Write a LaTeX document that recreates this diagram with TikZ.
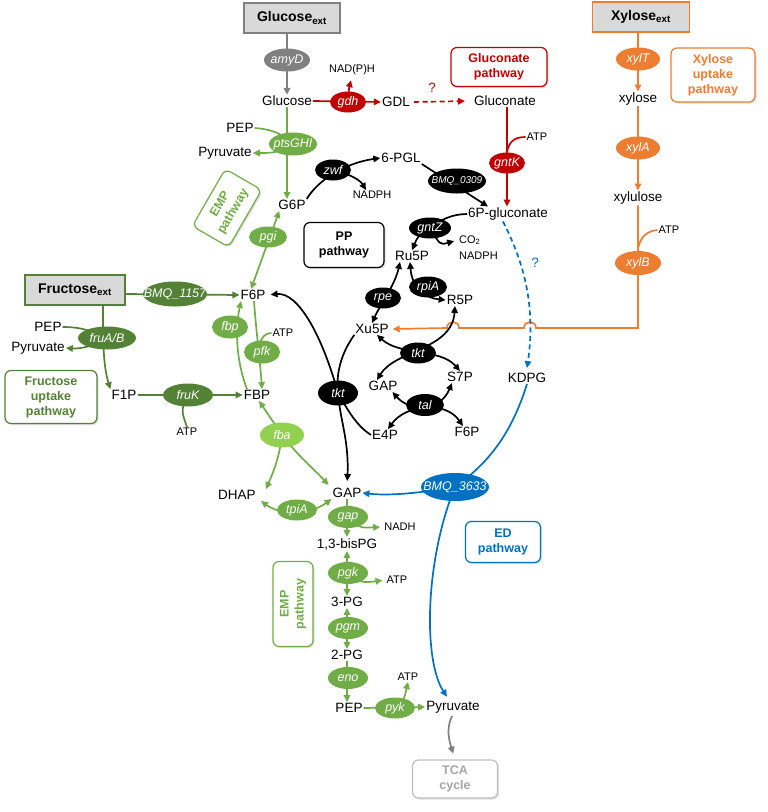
\documentclass[tikz,border=0pt]{standalone}
\usepackage{fontspec}
\setmainfont{Liberation Sans}
\usetikzlibrary{arrows.meta,shapes.geometric,shadows}
\pgfdeclarelayer{bg}
\pgfsetlayers{bg,main}
\definecolor{cred}{HTML}{C00000}
\definecolor{corange}{HTML}{ED7D31}
\definecolor{cblue}{HTML}{0070C0}
\definecolor{cgreen}{HTML}{70AD47}
\definecolor{clgreen}{HTML}{92D050}
\definecolor{cdgreen}{HTML}{538135}
\definecolor{cgray}{HTML}{808080}
\definecolor{cbox}{HTML}{D9D9D9}
\definecolor{ctca}{HTML}{BFBFBF}
\definecolor{ctcat}{HTML}{A6A6A6}
\newcommand\E[1]{\makebox[0pt]{\itshape #1}}
\tikzset{
 met/.style={font=\fontsize{13.5}{15}\selectfont, inner sep=1pt},
 sm/.style={font=\fontsize{11}{13}\selectfont, inner sep=1pt},
 enz/.style={ellipse, inner sep=0pt, minimum width=#1, minimum height=21pt, text=white, font=\fontsize{12.5}{14}\selectfont},
 extbox/.style={draw=#1, line width=1.8pt, fill=cbox, minimum width=96pt, minimum height=30pt, font=\fontsize{14}{16}\selectfont\bfseries},
 pbox/.style={draw=#1, text=#1, line width=1.2pt, rounded corners=6pt, fill=white, align=center, font=\fontsize{12.5}{15}\selectfont\bfseries, drop shadow={opacity=0.25, shadow xshift=1.5pt, shadow yshift=-1.5pt}},
 ln/.style={line width=1.7pt},
 arr/.style={ln, -{Triangle[length=7pt,width=6.5pt]}},
 barr/.style={ln, {Triangle[length=7pt,width=6.5pt]}-{Triangle[length=7pt,width=6.5pt]}},
}
\begin{document}
\begin{tikzpicture}[x=1pt,y=-1pt]
\useasboundingbox (0,0) rectangle (768,812);
% ---------- nodes ----------
\node[extbox=cgray] (gext) at (292,18) {Glucose\textsubscript{ext}};
\node[enz=46pt, fill=cgray, minimum height=23pt] (amyD) at (287,60) {\E{amyD}};
\node[met] (glc) at (287,101) {Glucose};
\node[enz=36pt, fill=cred] (gdh) at (348,102) {\E{gdh}};
\node[sm] (nadph1) at (352,70) {NAD(P)H};
\node[met] (gdl) at (396,102) {GDL};
\node[met, text=cred] (q1) at (432,88) {?};
\node[met] (glcn) at (505,101) {Gluconate};
\node[pbox=cred, minimum width=96pt, minimum height=39pt] (gpath) at (499,67) {Gluconate\\pathway};

\node[extbox=corange, minimum width=97pt] (xext) at (641,17) {Xylose\textsubscript{ext}};
\node[enz=44pt, fill=corange, minimum height=23pt] (xylT) at (638,59) {\E{xylT}};
\node[met] (xyl) at (638,99) {xylose};
\node[pbox=corange, minimum width=84pt, minimum height=54pt] (xpath) at (713,75) {Xylose\\uptake\\pathway};
\node[enz=44pt, fill=corange, minimum height=23pt] (xylA) at (638,148) {\E{xylA}};
\node[met] (xylu) at (638,198) {xylulose};
\node[enz=46pt, fill=corange, minimum height=24pt] (xylB) at (638,263) {\E{xylB}};
\node[sm] (atpx) at (669,230) {ATP};
\coordinate (xbb) at (638,249);

\node[enz=36pt, fill=cred] (gntK) at (507,163) {\E{gntK}};
\node[sm] (atpg) at (537,137) {ATP};
\coordinate (gkb) at (507,152);
\node[met] (pg6) at (508,214) {6P-gluconate};
\node[enz=58pt, fill=black, minimum height=25pt, font=\fontsize{10}{12}\selectfont] (bmq0309) at (457,181) {\E{BMQ\_0309}};
\node[met] (pgl) at (401,158) {6-PGL};
\node[enz=36pt, fill=black] (zwf) at (333,170) {\E{zwf}};
\node[sm] (nadph2) at (372,195) {NADPH};
\node[met] (g6p) at (292,205) {G6P};
\node[enz=48pt, fill=cgreen, minimum height=23pt] (pts) at (293,144) {\E{ptsGHI}};
\node[met] (pep1) at (240,128) {PEP};
\node[met] (pyr1) at (225,153) {Pyruvate};
\node[pbox=cgreen, rotate=60, minimum width=66pt, minimum height=42pt] (emp1) at (227,208) {EMP\\pathway};
\node[enz=38pt, fill=cgreen] (pgi) at (268,237) {\E{pgi}};
\node[met] (f6p) at (253,295) {F6P};

\node[extbox=cdgreen, minimum width=100pt] (fext) at (75,290) {Fructose\textsubscript{ext}};
\node[enz=64pt, fill=cdgreen, minimum height=25pt] (bmq1157) at (175,294) {\E{BMQ\_1157}};
\node[enz=58pt, fill=cdgreen, minimum height=23pt] (fruab) at (107,338) {\E{fruA/B}};
\node[met] (pep2) at (48,327) {PEP};
\node[met] (pyr2) at (38,348) {Pyruvate};
\node[met] (f1p) at (124,395) {F1P};
\node[pbox=cdgreen, minimum width=92pt, minimum height=53pt] (fpath) at (51,397) {Fructose\\uptake\\pathway};
\node[enz=50pt, fill=cdgreen, minimum height=23pt] (fruK) at (188,395) {\E{fruK}};
\node[sm] (atpk) at (187,432) {ATP};
\node[met] (fbp) at (257,395) {FBP};
\node[enz=36pt, fill=cgreen, minimum height=23pt] (fbpE) at (230,327) {\E{fbp}};
\node[enz=36pt, fill=cgreen, minimum height=23pt] (pfk) at (262,352) {\E{pfk}};
\node[sm] (atpp) at (283,333) {ATP};
\coordinate (pfkb) at (259,345);
\node[enz=44pt, fill=clgreen, minimum height=25pt] (fba) at (282,435) {\E{fba}};
\node[met] (dhap) at (237,495) {DHAP};
\node[met] (gap) at (347,493) {GAP};
\node[enz=40pt, fill=cgreen] (tpiA) at (297,510) {\E{tpiA}};
\node[enz=40pt, fill=cgreen, minimum height=22pt] (gapE) at (348,517) {\E{gap}};
\node[sm] (nadh) at (400,527) {NADH};
\node[met] (bpg) at (347,544) {1,3-bisPG};
\node[enz=40pt, fill=cgreen, minimum height=22pt] (pgk) at (348,573) {\E{pgk}};
\node[sm] (atp5) at (397,580) {ATP};
\node[met] (pg3) at (347,602) {3-PG};
\node[enz=40pt, fill=cgreen, minimum height=22pt] (pgm) at (348,628) {\E{pgm}};
\node[met] (pg2) at (347,655) {2-PG};
\node[enz=40pt, fill=cgreen, minimum height=22pt] (eno) at (348,678) {\E{eno}};
\node[sm] (atp6) at (408,677) {ATP};
\node[met] (pep3) at (349,708) {PEP};
\node[enz=40pt, fill=cgreen] (pyk) at (395,708) {\E{pyk}};
\node[met] (pyr3) at (453,707) {Pyruvate};
\node[pbox=ctca, text=ctcat, minimum width=85pt, minimum height=38pt] (tca) at (455,779) {TCA\\cycle};
\node[pbox=cgreen, rotate=90, minimum width=85pt, minimum height=40pt] (emp2) at (293,604) {EMP\\pathway};
\node[pbox=cblue, minimum width=75pt, minimum height=41pt] (edpath) at (503,542) {ED\\pathway};
\node[enz=68pt, fill=cblue, minimum height=28pt] (bmq3633) at (455,487) {\E{BMQ\_3633}};
\node[met] (kdpg) at (527,378) {KDPG};
\node[met, text=cblue] (q2) at (535,263) {?};

\node[pbox=black, minimum width=80pt, minimum height=45pt] (pp) at (344,245) {PP\\pathway};
\node[enz=42pt, fill=black] (gntZ) at (430,228) {\E{gntZ}};
\node[sm, anchor=west] (co2) at (458,240) {CO\textsubscript{2}};
\node[sm, anchor=west] (nadph3) at (458,256) {NADPH};
\node[met] (ru5p) at (412,256) {Ru5P};
\node[enz=38pt, fill=black] (rpiA) at (428,287) {\E{rpiA}};
\node[met] (r5p) at (460,300) {R5P};
\node[enz=36pt, fill=black] (rpe) at (383,298) {\E{rpe}};
\node[met] (xu5p) at (372,329) {Xu5P};
\node[enz=36pt, fill=black] (tkt1) at (418,353) {\E{tkt}};
\node[met] (s7p) at (460,377) {S7P};
\node[met] (gap2) at (383,386) {GAP};
\node[enz=38pt, fill=black, minimum height=22pt] (tal) at (425,405) {\E{tal}};
\node[met] (f6p2) at (467,432) {F6P};
\node[met] (e4p) at (385,435) {E4P};
\node[enz=40pt, fill=black, minimum height=25pt] (tkt2) at (338,393) {\E{tkt}};

% ---------- connectors ----------
\begin{pgfonlayer}{bg}
% gray
\draw[arr, cgray] (gext.south -| amyD) -- (glc.north -| amyD);
\draw[arr, cgray, shorten <=2pt, shorten >=6pt] (pyr3.south) .. controls (446,728) and (449,740) .. (tca.north);
% red
\draw[arr, cred] (glc.east) -- (gdl.west);
\draw[arr, cred, shorten >=4pt] (gdh.center) .. controls (349,88) .. (nadph1.south);
\draw[arr, cred, dash pattern=on 5pt off 3.5pt, shorten <=3pt, shorten >=8pt] (gdl.east) -- (glcn.west);
\draw[arr, cred] (glcn.south -| gntK) -- (pg6.north -| gntK);
\draw[ln, cred] (gkb) .. controls (509,142) and (514,137) .. (atpg.west);
% orange
\draw[arr, corange] (xext.south -| xylT) -- (xyl.north);
\draw[arr, corange] (xyl.south) -- (xylu.north);
\draw[arr, corange] (xylu.south) -- (638,328) -- (536,328) .. controls (536,320) and (524,320) .. (524,328)
   -- (459,328) .. controls (459,320) and (447,320) .. (447,328) -- ([xshift=3pt]xu5p.east);
\draw[ln, corange] (xbb) .. controls (640,238) and (646,231) .. (atpx.west);
% blue
\draw[arr, cblue, dash pattern=on 5pt off 3.5pt] ([xshift=-5pt]pg6.south) .. controls (520,255) and (537,300) .. ([yshift=4pt]kdpg.north);
\draw[ln, cblue] (kdpg.south) .. controls (512,432) and (490,462) .. (bmq3633.center);
\draw[arr, cblue] (bmq3633.center) .. controls (420,493) and (390,496) .. (gap.east);
\draw[arr, cblue] (bmq3633.center) .. controls (425,560) and (423,660) .. ([xshift=-6pt,yshift=3pt]pyr3.north);
% green (EMP)
\draw[arr, cgreen] (glc.south) -- (glc.south |- g6p.north);
\draw[ln, cgreen] (pep1.east) .. controls (270,129) and (282,133) .. (pts.center);
\draw[arr, cgreen] (pts.center) .. controls (280,153) and (270,153) .. (pyr1.east);
\draw[barr, cgreen] ([xshift=-2pt]f6p.north) -- ([xshift=2pt]g6p.south west);
\draw[arr, cgreen] ([xshift=-10pt]fbp.north) .. controls (236,360) and (235,330) .. ([xshift=-12pt]f6p.south);
\draw[arr, cgreen] ([xshift=1pt]f6p.south) .. controls (256,330) and (260,360) .. ([xshift=5pt]fbp.north);
\draw[ln, cgreen] (pfkb) .. controls (262,336) and (266,333) .. (atpp.west);
\draw[arr, cgreen] (fba.center) -- ([xshift=2pt]fbp.south);
\draw[arr, cgreen] (fba.center) .. controls (279,460) and (272,475) .. ([xshift=9pt]dhap.north east);
\draw[arr, cgreen] (fba.center) .. controls (297,455) and (315,470) .. ([xshift=-3pt,yshift=2pt]gap.north west);
\draw[barr, cgreen] ([shift={(4pt,-6pt)}]dhap.east) .. controls (280,515) and (310,515) .. (gap.south west);
\draw[arr, cgreen] (gap.south) -- (bpg.north);
\draw[arr, cgreen, shorten >=3pt] (gapE.center) .. controls (360,528) .. (nadh.west);
\draw[barr, cgreen] (bpg.south) -- (pg3.north);
\draw[arr, cgreen, shorten >=3pt] (pgk.center) .. controls (362,583) .. (atp5.west);
\draw[barr, cgreen] (pg3.south) -- (pg2.north);
\draw[arr, cgreen] (pg2.south) -- (pg2.south |- pep3.north);
\draw[arr, cgreen] (pep3.east) -- (pyr3.west);
\draw[arr, cgreen] (pyk.center) .. controls (404,700) .. (atp6.south);
% dark green (fructose)
\draw[arr, cdgreen] (fext.east |- bmq1157.center) -- (f6p.west);
\draw[arr, cdgreen] ([xshift=28pt]fext.south) .. controls (103,340) and (103,365) .. (f1p.north west);
\draw[ln, cdgreen] (pep2.east) .. controls (80,327) and (90,330) .. (fruab.center);
\draw[arr, cdgreen] (fruab.center) .. controls (95,346) and (80,349) .. (pyr2.east);
\draw[arr, cdgreen] (f1p.east) -- (fbp.west);
\draw[ln, cdgreen] (fruK.center) .. controls (181,410) .. (atpk.north);
% black (PP)
\draw[arr] (g6p.north east) .. controls (318,180) and (345,163) .. (pgl.west);
\draw[arr] (zwf.center) .. controls (350,174) and (360,180) .. ([xshift=-6pt]nadph2.north);
\draw[arr] (pgl.south east) -- ([xshift=-20pt]pg6.north);
\draw[ln] (pg6.west) .. controls (452,214) and (440,220) .. (gntZ.center);
\draw[arr] (gntZ.center) .. controls (418,236) .. (ru5p.north);
\draw[arr, shorten >=4pt] (gntZ.center) .. controls (440,245) .. (co2.west);
\draw[barr] (xu5p.north) .. controls (380,305) and (395,285) .. ([xshift=-12pt]ru5p.south);
\draw[barr] ([xshift=-2pt]ru5p.south) .. controls (412,288) and (425,298) .. (r5p.west);
\draw[barr] ([xshift=5pt]xu5p.south) .. controls (400,356) and (440,348) .. (s7p.north);
\draw[barr] ([xshift=-6pt]gap2.north) .. controls (395,350) and (452,350) .. ([xshift=-5pt]r5p.south);
\draw[barr] ([xshift=-6pt]gap2.south east) .. controls (410,412) and (440,412) .. ([xshift=-8pt]s7p.south);
\draw[barr] ([xshift=3pt]e4p.north) .. controls (405,405) and (445,400) .. ([xshift=-4pt]f6p2.north);
\draw[arr, shorten >=6pt] (xu5p.south west) .. controls (340,355) and (336,375) .. (tkt2.center) .. controls (340,420) and (349,440) .. (gap.north);
\draw[arr, shorten >=4pt] (e4p.west) .. controls (355,425) and (345,405) .. (tkt2.center) .. controls (322,335) and (298,292) .. (f6p.east);
\end{pgfonlayer}
\end{tikzpicture}
\end{document}
